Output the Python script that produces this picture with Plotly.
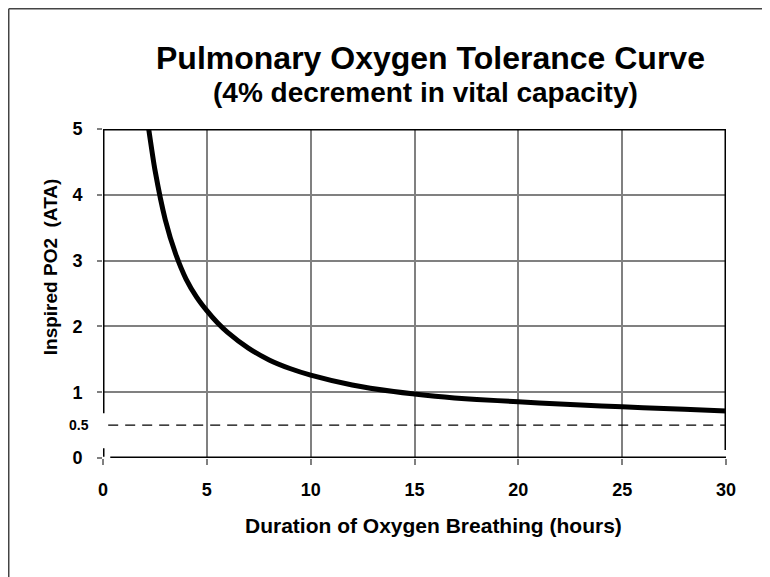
import plotly.graph_objects as go

# Data
duration_hours = [2.2, 2.5, 3, 3.5, 4, 4.5, 5, 5.5, 6, 7, 8, 9, 10, 12, 14, 16, 18, 20, 22, 24, 26, 28, 30]
inspired_po2 = [5.0, 4.38, 3.62, 3.1, 2.72, 2.45, 2.24, 2.06, 1.91, 1.67, 1.49, 1.36, 1.26, 1.11, 1.01, 0.94, 0.89, 0.855, 0.82, 0.79, 0.765, 0.74, 0.715]
x_ticks = [0, 5, 10, 15, 20, 25, 30]
y_ticks = [0, 1, 2, 3, 4, 5]
threshold_po2 = 0.5

FONT = "Liberation Sans, Arial, sans-serif"
GRID = "#808080"

fig = go.Figure()
fig.add_trace(go.Scatter(
    x=duration_hours, y=inspired_po2, mode="lines",
    line=dict(color="black", width=5, shape="spline", smoothing=0.6),
    hoverinfo="x+y", showlegend=False,
))

# page has an 8px body margin, so figure is placed at (8,8)
fig.update_layout(
    width=762, height=569, autosize=False,
    margin=dict(l=95, r=44, t=121, b=119),
    paper_bgcolor="white", plot_bgcolor="white",
    font=dict(family=FONT, color="black"),
    showlegend=False,
)
fig.update_xaxes(
    range=[0, 30], tickvals=x_ticks, ticktext=[str(v) for v in x_ticks],
    showgrid=True, gridcolor=GRID, gridwidth=2,
    ticks="outside", ticklen=6, tickwidth=2, tickcolor=GRID,
    zeroline=False, showline=False,
    tickfont=dict(family=FONT, size=18, weight="bold", color="black"),
    ticklabelstandoff=9,
)
fig.update_yaxes(
    range=[0, 5], tickvals=y_ticks, ticktext=[str(v) for v in y_ticks],
    showgrid=True, gridcolor=GRID, gridwidth=2,
    ticks="outside", ticklen=5, tickwidth=2, tickcolor=GRID,
    zeroline=False, showline=False,
    tickfont=dict(family=FONT, size=18, weight="bold", color="black"),
    ticklabelstandoff=11,
)

shapes = []
# cover the x=0 gridline in the axis break
shapes.append(dict(type="rect", xref="x", yref="y", x0=-0.2, x1=0.2, y0=0.16, y1=0.67,
                   fillcolor="white", line=dict(width=0), layer="above"))
blk = dict(color="black", width=3)
# top border
shapes.append(dict(type="line", xref="x", yref="y", x0=0, x1=30, y0=5, y1=5, line=blk, layer="above"))
# left axis with break
shapes.append(dict(type="line", xref="x", yref="y", x0=0, x1=0, y0=5, y1=0.68, line=blk, layer="above"))
shapes.append(dict(type="line", xref="x", yref="y", x0=0, x1=0, y0=0.15, y1=0.02, line=blk, layer="above"))
# bottom axis
shapes.append(dict(type="line", xref="x", yref="y", x0=0.35, x1=30, y0=0, y1=0, line=blk, layer="above"))
# right border
shapes.append(dict(type="line", xref="x", yref="y", x0=30, x1=30, y0=5, y1=0.12, line=blk, layer="above"))
# dashed threshold line
shapes.append(dict(type="line", xref="x", yref="y", x0=0.25, x1=30.2, y0=threshold_po2, y1=threshold_po2,
                   line=dict(color="black", width=1.2, dash="10px,7px"), layer="above"))
# outer frame (top and left edges of the figure)
shapes.append(dict(type="line", xref="paper", yref="paper", x0=-0.1513, x1=1.2, y0=1.3655, y1=1.3655,
                   line=dict(color="#444444", width=1.5)))
shapes.append(dict(type="line", xref="paper", yref="paper", x0=-0.1513, x1=-0.1513, y0=1.3655, y1=-0.5,
                   line=dict(color="#444444", width=1.5)))
fig.update_layout(shapes=shapes)

annotations = [
    dict(text="Pulmonary Oxygen Tolerance Curve", xref="paper", yref="paper", x=0.525, y=1.216,
         showarrow=False, font=dict(family=FONT, size=32, weight="bold"), xanchor="center", yanchor="middle"),
    dict(text="(4% decrement in vital capacity)", xref="paper", yref="paper", x=0.518, y=1.112,
         showarrow=False, font=dict(family=FONT, size=28, weight="bold"), xanchor="center", yanchor="middle"),
    dict(text="Inspired PO2&nbsp; (ATA)", xref="paper", yref="paper", x=-0.085, y=0.58, textangle=-90,
         showarrow=False, font=dict(family=FONT, size=19, weight="bold"), xanchor="center", yanchor="middle"),
    dict(text="Duration of Oxygen Breathing (hours)", xref="paper", yref="paper", x=0.531, y=-0.204,
         showarrow=False, font=dict(family=FONT, size=21, weight="bold"), xanchor="center", yanchor="middle"),
    dict(text=str(threshold_po2), xref="paper", yref="y", x=-0.0385, y=threshold_po2,
         showarrow=False, font=dict(family=FONT, size=14, weight="bold"), xanchor="center", yanchor="middle"),
]
fig.update_layout(annotations=annotations)

fig.write_html("out.html")
